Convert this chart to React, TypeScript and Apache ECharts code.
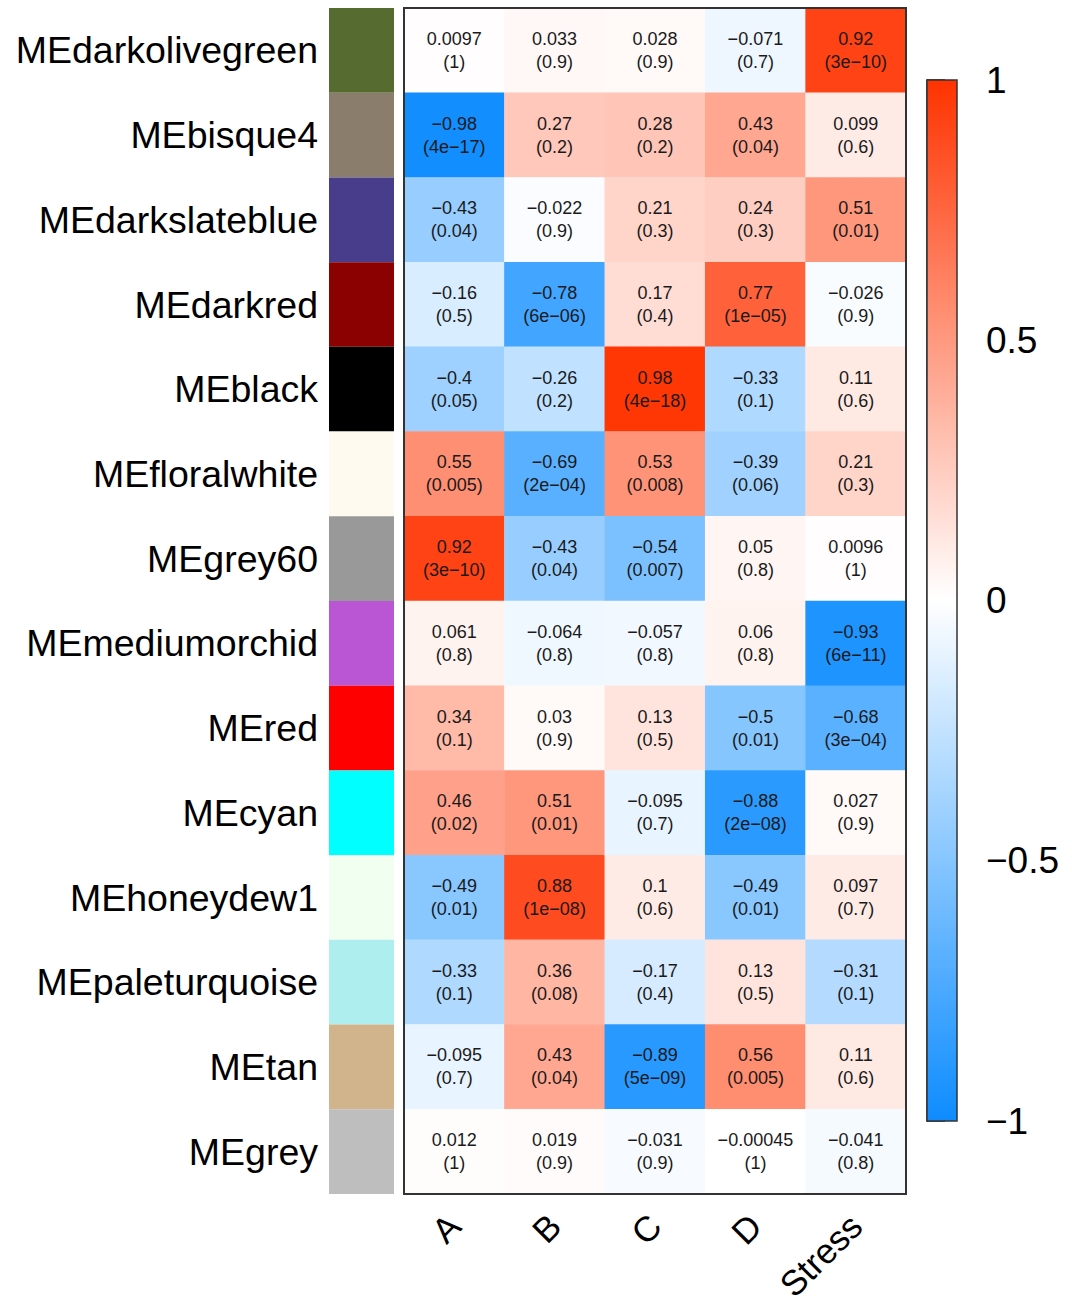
import React, { useEffect, useRef } from "react";
import * as echarts from "echarts";

const traits = ["A", "B", "C", "D", "Stress"];
const modules = [
  "MEdarkolivegreen", "MEbisque4", "MEdarkslateblue", "MEdarkred", "MEblack",
  "MEfloralwhite", "MEgrey60", "MEmediumorchid", "MEred", "MEcyan",
  "MEhoneydew1", "MEpaleturquoise", "MEtan", "MEgrey",
];
const moduleColors = [
  "#556B2F", "#8B7D6B", "#483D8B", "#8B0000", "#000000",
  "#FFFAF0", "#999999", "#BA55D3", "#FF0000", "#00FFFF",
  "#F0FFF0", "#AFEEEE", "#D2B48C", "#BEBEBE",
];

const corA = [0.0097, -0.98, -0.43, -0.16, -0.4, 0.55, 0.92, 0.061, 0.34, 0.46, -0.49, -0.33, -0.095, 0.012];
const corB = [0.033, 0.27, -0.022, -0.78, -0.26, -0.69, -0.43, -0.064, 0.03, 0.51, 0.88, 0.36, 0.43, 0.019];
const corC = [0.028, 0.28, 0.21, 0.17, 0.98, 0.53, -0.54, -0.057, 0.13, -0.095, 0.1, -0.17, -0.89, -0.031];
const corD = [-0.071, 0.43, 0.24, 0.77, -0.33, -0.39, 0.05, 0.06, -0.5, -0.88, -0.49, 0.13, 0.56, -0.00045];
const corStress = [0.92, 0.099, 0.51, -0.026, 0.11, 0.21, 0.0096, -0.93, -0.68, 0.027, 0.097, -0.31, 0.11, -0.041];

const pA = ["1", "4e-17", "0.04", "0.5", "0.05", "0.005", "3e-10", "0.8", "0.1", "0.02", "0.01", "0.1", "0.7", "1"];
const pB = ["0.9", "0.2", "0.9", "6e-06", "0.2", "2e-04", "0.04", "0.8", "0.9", "0.01", "1e-08", "0.08", "0.04", "0.9"];
const pC = ["0.9", "0.2", "0.3", "0.4", "4e-18", "0.008", "0.007", "0.8", "0.5", "0.7", "0.6", "0.4", "5e-09", "0.9"];
const pD = ["0.7", "0.04", "0.3", "1e-05", "0.1", "0.06", "0.8", "0.8", "0.01", "2e-08", "0.01", "0.5", "0.005", "1"];
const pStress = ["3e-10", "0.6", "0.01", "0.9", "0.6", "0.3", "1", "6e-11", "3e-04", "0.9", "0.7", "0.1", "0.6", "0.8"];

const colorbarTicks = [-1, -0.5, 0, 0.5, 1];

const corCols = [corA, corB, corC, corD, corStress];
const pCols = [pA, pB, pC, pD, pStress];

const minus = (s: string) => s.replace(/-/g, "\u2212");

export default function App() {
  const ref = useRef<HTMLDivElement>(null);
  useEffect(() => {
    if (!ref.current) return;
    const chart = echarts.init(ref.current, undefined, { renderer: "svg" });
    const data: any[] = [];
    corCols.forEach((col, x) => {
      col.forEach((v, y) => data.push([x, y, v]));
    });
    const font = "'Liberation Sans', Arial, sans-serif";
    const H = { left: 404, top: 8, width: 502, height: 1186 };
    const CB = { left: 927, top: 80, width: 30, height: 1041 };
    chart.setOption({
      animation: false,
      textStyle: { fontFamily: font },
      grid: [
        { left: H.left, top: H.top, width: H.width, height: H.height, outerBoundsMode: "none", containLabel: false },
        { left: 329, top: H.top, width: 65, height: H.height, outerBoundsMode: "none", containLabel: false },
        { left: CB.left, top: CB.top, width: CB.width, height: CB.height, outerBoundsMode: "none", containLabel: false },
      ],
      xAxis: [
        {
          type: "category", data: traits, gridIndex: 0, position: "bottom",
          axisLine: { show: false }, axisTick: { show: false },
          axisLabel: { rotate: 45, fontSize: 35, lineHeight: 36, color: "#000", margin: 26, fontFamily: font },
        },
        { type: "value", gridIndex: 1, min: 0, max: 1, show: false },
        { type: "value", gridIndex: 2, min: 0, max: 1, show: false },
      ],
      yAxis: [
        { type: "category", data: modules, gridIndex: 0, inverse: true, show: false },
        {
          type: "category", data: modules, gridIndex: 1, inverse: true,
          axisLine: { show: false }, axisTick: { show: false },
          axisLabel: { fontSize: 37.5, color: "#000", margin: 11, fontFamily: font },
        },
        {
          type: "value", gridIndex: 2, min: colorbarTicks[0], max: colorbarTicks[colorbarTicks.length - 1],
          interval: 0.5, position: "right",
          axisLine: { show: true, lineStyle: { color: "#222", width: 1.5 } },
          axisTick: { show: true, length: 18, lineStyle: { color: "#222", width: 1.5 } },
          splitLine: { show: false },
          axisLabel: {
            fontSize: 37, color: "#000", margin: 29, fontFamily: font,
            formatter: (v: number) => minus(String(v)),
          },
        },
      ],
      visualMap: {
        type: "continuous", min: -1, max: 1, seriesIndex: 0,
        calculable: false, show: true, orient: "vertical",
        left: CB.left, top: CB.top, padding: 0,
        itemWidth: CB.width, itemHeight: CB.height,
        inRange: { color: ["#0D8CFF", "#FFFFFF", "#FF3300"] },
        hoverLink: false,
      },
      series: [
        {
          type: "heatmap", xAxisIndex: 0, yAxisIndex: 0, data,
          label: {
            show: true, fontSize: 18, lineHeight: 23, color: "#1a1a1a", fontFamily: font,
            padding: [3, 0, 0, 0],
            formatter: (p: any) => {
              const [x, y, v] = p.data;
              return minus(String(v)) + "\n(" + minus(pCols[x][y]) + ")";
            },
          },
          emphasis: { disabled: true },
        },
        {
          type: "bar", xAxisIndex: 1, yAxisIndex: 1, barWidth: "100%",
          data: moduleColors.map((c) => ({ value: 1, itemStyle: { color: c } })),
          emphasis: { disabled: true },
        },
      ],
      graphic: [
        {
          type: "rect", z: 100, silent: true,
          shape: { x: H.left, y: H.top, width: H.width, height: H.height },
          style: { fill: "none", stroke: "#333", lineWidth: 2 },
        },
        {
          type: "rect", z: 100, silent: true,
          shape: { x: CB.left, y: CB.top, width: CB.width, height: CB.height },
          style: { fill: "none", stroke: "#333", lineWidth: 1.5 },
        },
      ],
    });
    return () => chart.dispose();
  }, []);
  return (
    <div
      ref={ref}
      style={{ position: "absolute", left: 0, top: 0, width: 1072, height: 1305, background: "#fff" }}
    />
  );
}
